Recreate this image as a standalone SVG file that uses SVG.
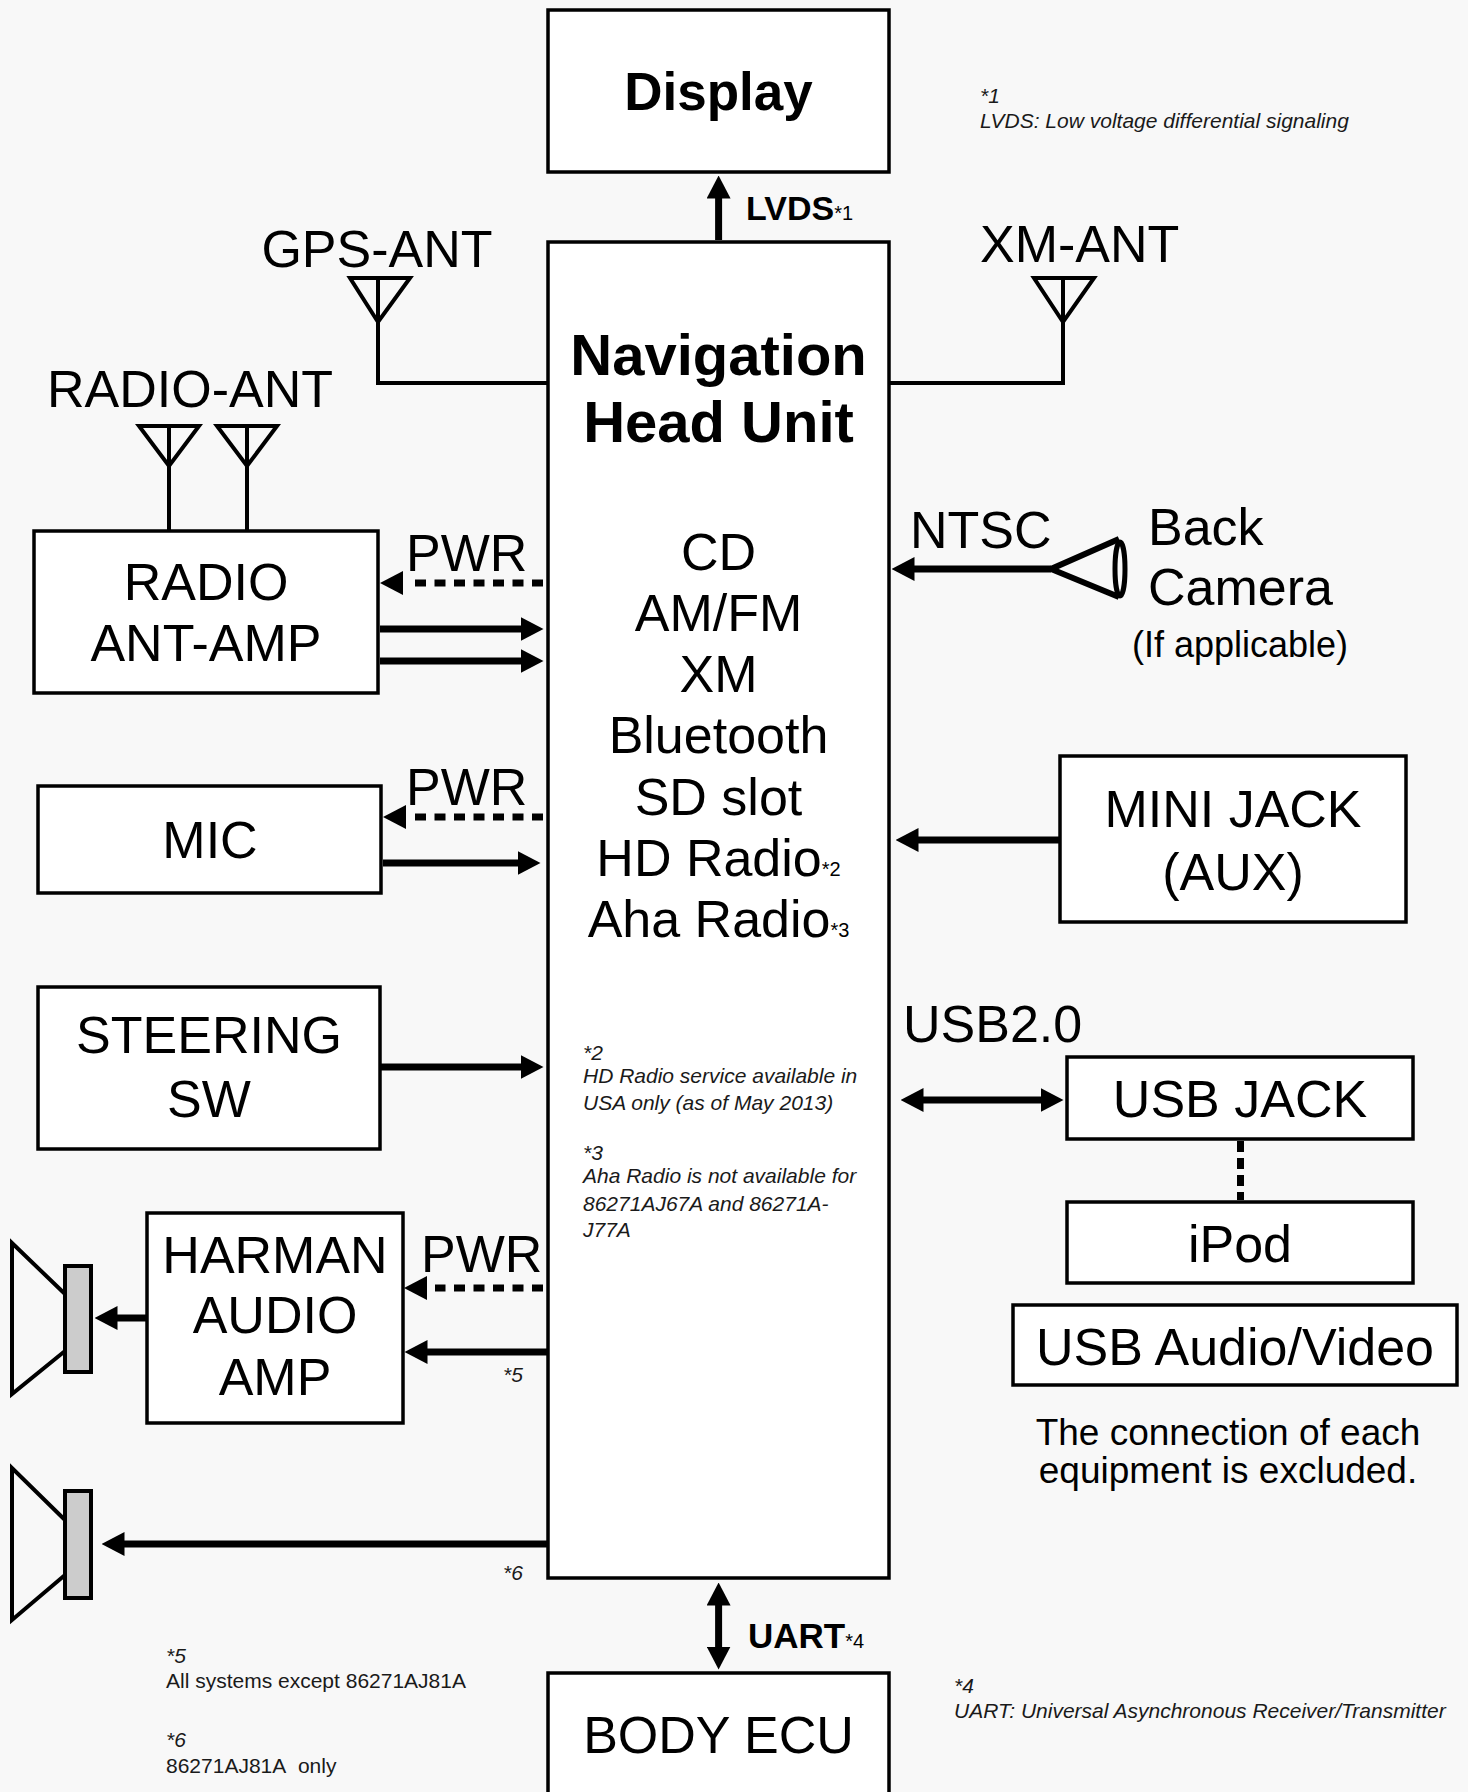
<svg xmlns="http://www.w3.org/2000/svg" width="1468" height="1792" viewBox="0 0 1468 1792">
<style>
.box{fill:#fff;stroke:#000;stroke-width:3.5}
.t{font-family:"Liberation Sans",Arial,sans-serif;fill:#000}
.big{font-size:52px}
.c{text-anchor:middle}
.b{font-weight:bold}
.fn{font-family:"Liberation Sans",Arial,sans-serif;font-size:21px;font-style:italic;fill:#1a1a1a}
.fr{font-family:"Liberation Sans",Arial,sans-serif;font-size:21px;fill:#1a1a1a}
.sub{font-size:20px;font-weight:normal}
.ant{fill:none;stroke:#000;stroke-width:4}
.ar{fill:none;stroke:#000;stroke-width:7;marker-end:url(#ah)}
.ar2{fill:none;stroke:#000;stroke-width:7;marker-start:url(#ah);marker-end:url(#ah)}
.dot{fill:none;stroke:#000;stroke-width:7;stroke-dasharray:11 8.5;marker-end:url(#dh)}
.spk{fill:none;stroke:#000;stroke-width:4}
.cone{fill:#ccc;stroke:#000;stroke-width:4}
</style>
<defs>
<marker id="ah" viewBox="0 0 23 24" markerWidth="23" markerHeight="24" refX="0.5" refY="12" markerUnits="userSpaceOnUse" orient="auto-start-reverse"><path d="M0,0L23,12L0,24z" fill="#000"/></marker>
<marker id="dh" viewBox="0 0 31 24" markerWidth="31" markerHeight="24" refX="0" refY="12" markerUnits="userSpaceOnUse" orient="auto"><path d="M8,0L31,12L8,24z" fill="#000"/></marker>
</defs>
<rect width="1468" height="1792" fill="#f8f8f8"/>

<g id="display">
<rect class="box" x="548" y="10" width="341" height="162"/>
<text class="t c b" x="718.5" y="110" font-size="53">Display</text>
</g>

<g id="nav">
<rect class="box" x="548" y="242" width="341" height="1336"/>
<text class="t c b" x="718.5" y="375" font-size="58">Navigation</text>
<text class="t c b" x="718.5" y="442" font-size="58">Head Unit</text>
<text class="t c big" x="718.5" y="570">CD</text>
<text class="t c big" x="718.5" y="631">AM/FM</text>
<text class="t c big" x="718.5" y="692">XM</text>
<text class="t c big" x="718.5" y="753">Bluetooth</text>
<text class="t c big" x="718.5" y="815">SD slot</text>
<text class="t c big" x="718.5" y="876">HD Radio<tspan class="sub">*2</tspan></text>
<text class="t c big" x="718.5" y="937">Aha Radio<tspan class="sub">*3</tspan></text>
<text class="fn" x="583" y="1060">*2</text>
<text class="fn" x="583" y="1083">HD Radio service available in</text>
<text class="fn" x="583" y="1110">USA only (as of May 2013)</text>
<text class="fn" x="583" y="1160">*3</text>
<text class="fn" x="583" y="1183">Aha Radio is not available for</text>
<text class="fn" x="583" y="1211">86271AJ67A and 86271A-</text>
<text class="fn" x="583" y="1237">J77A</text>
</g>

<g id="body-ecu">
<rect class="box" x="548" y="1673" width="341" height="140"/>
<text class="t c big" x="718.5" y="1753">BODY ECU</text>
</g>

<g id="gps-ant">
<text class="t c big" x="377" y="267">GPS-ANT</text>
<polygon class="ant" points="350,278 410,278 378,322"/>
</g>

<g id="xm-ant">
<text class="t big" x="980" y="262">XM-ANT</text>
<polygon class="ant" points="1034,278 1094,278 1063,322"/>
</g>

<g id="radio-ant">
<text class="t c big" x="190" y="407">RADIO-ANT</text>
<polygon class="ant" points="139,426 199,426 169,466"/>
<polygon class="ant" points="217,426 277,426 247,466"/>
</g>

<g id="radio-ant-amp">
<rect class="box" x="34" y="531" width="344" height="162"/>
<text class="t c big" x="206" y="600">RADIO</text>
<text class="t c big" x="206" y="661">ANT-AMP</text>
</g>

<g id="mic">
<rect class="box" x="38" y="786" width="343" height="107"/>
<text class="t c big" x="210" y="858">MIC</text>
</g>

<g id="steering-sw">
<rect class="box" x="38" y="987" width="342" height="162"/>
<text class="t c big" x="209" y="1053">STEERING</text>
<text class="t c big" x="209" y="1117">SW</text>
</g>

<g id="harman-amp">
<rect class="box" x="147" y="1213" width="256" height="210"/>
<text class="t c big" x="275" y="1273">HARMAN</text>
<text class="t c big" x="275" y="1333">AUDIO</text>
<text class="t c big" x="275" y="1395">AMP</text>
</g>

<g id="speaker-1">
<polyline class="spk" points="65,1294 12,1243 12,1394 65,1351"/>
<rect class="cone" x="65" y="1266" width="26" height="106"/>
</g>

<g id="speaker-2">
<polyline class="spk" points="65,1520 12,1468 12,1620 65,1575"/>
<rect class="cone" x="65" y="1491" width="26" height="107"/>
</g>

<g id="back-camera">
<polyline fill="none" stroke="#000" stroke-width="6" stroke-linejoin="miter" points="1119,539 1051,569 1119,597"/>
<ellipse cx="1120" cy="569" rx="5" ry="27" fill="none" stroke="#000" stroke-width="5"/>
<text class="t big" x="1148" y="545">Back</text>
<text class="t big" x="1148" y="605">Camera</text>
<text class="t" x="1132" y="657" font-size="36">(If applicable)</text>
</g>

<g id="mini-jack">
<rect class="box" x="1060" y="756" width="346" height="166"/>
<text class="t c big" x="1233" y="827">MINI JACK</text>
<text class="t c big" x="1233" y="890">(AUX)</text>
</g>

<g id="usb-jack">
<rect class="box" x="1067" y="1057" width="346" height="82"/>
<text class="t c big" x="1240" y="1117">USB JACK</text>
</g>

<g id="ipod">
<rect class="box" x="1067" y="1202" width="346" height="81"/>
<text class="t c big" x="1240" y="1262">iPod</text>
</g>

<g id="usb-av">
<rect class="box" x="1013" y="1305" width="444" height="80"/>
<text class="t c big" x="1235" y="1365">USB Audio/Video</text>
</g>

<g id="connectors">
<line class="ar" x1="718.6" y1="240" x2="718.6" y2="198"/>
<path class="ant" d="M378,278 V383 H548"/>
<path class="ant" d="M1063,278 V383 H889"/>
<line class="ant" x1="169" y1="426" x2="169" y2="531"/>
<line class="ant" x1="247" y1="426" x2="247" y2="531"/>
<line class="dot" x1="543" y1="583" x2="411" y2="583"/>
<line class="ar" x1="380" y1="629" x2="521" y2="629"/>
<line class="ar" x1="380" y1="661" x2="521" y2="661"/>
<line class="dot" x1="543" y1="817" x2="414" y2="817"/>
<line class="ar" x1="383" y1="863" x2="518" y2="863"/>
<line class="ar" x1="380" y1="1067" x2="521" y2="1067"/>
<line class="dot" x1="543" y1="1288" x2="435" y2="1288"/>
<line class="ar" x1="548" y1="1352" x2="427" y2="1352"/>
<line class="ar" x1="147" y1="1318" x2="117" y2="1318"/>
<line class="ar" x1="548" y1="1544" x2="124" y2="1544"/>
<line class="ar" x1="1051" y1="569" x2="914" y2="569"/>
<line class="ar" x1="1060" y1="840" x2="918" y2="840"/>
<line class="ar2" x1="923" y1="1100" x2="1041" y2="1100"/>
<line fill="none" stroke="#000" stroke-width="7" stroke-dasharray="11 6" x1="1240.5" y1="1141" x2="1240.5" y2="1200"/>
<line class="ar2" x1="718.6" y1="1605" x2="718.6" y2="1647"/>
</g>

<g id="labels">
<text class="t b" x="746" y="220" font-size="34">LVDS<tspan class="sub">*1</tspan></text>
<text class="t b" x="748" y="1648" font-size="35">UART<tspan class="sub">*4</tspan></text>
<text class="t big" x="406" y="571">PWR</text>
<text class="t big" x="406" y="805">PWR</text>
<text class="t big" x="421" y="1272">PWR</text>
<text class="t big" x="910" y="548">NTSC</text>
<text class="t big" x="903" y="1042">USB2.0</text>
<text class="fn" x="503" y="1382" fill="#333">*5</text>
<text class="fn" x="503" y="1580" fill="#333">*6</text>
<text class="t c" x="1228" y="1445" font-size="37">The connection of each</text>
<text class="t c" x="1228" y="1483" font-size="37">equipment is excluded.</text>
</g>

<g id="footnotes">
<text class="fn" x="980" y="103">*1</text>
<text class="fn" x="980" y="128">LVDS: Low voltage differential signaling</text>
<text class="fn" x="954" y="1693">*4</text>
<text class="fn" x="954" y="1718">UART: Universal Asynchronous Receiver/Transmitter</text>
<text class="fn" x="166" y="1663">*5</text>
<text class="fr" x="166" y="1688">All systems except 86271AJ81A</text>
<text class="fn" x="166" y="1747">*6</text>
<text class="fr" x="166" y="1773">86271AJ81A&#160; only</text>
</g>
</svg>
